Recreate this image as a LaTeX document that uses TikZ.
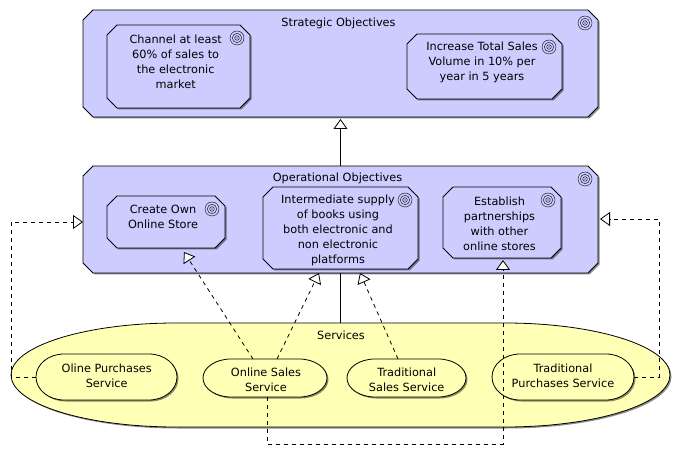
\documentclass[tikz,border=0pt]{standalone}
\usepackage{fontspec}
\setmainfont{DejaVu Sans}
\usetikzlibrary{shadows, positioning, arrows.meta}
\definecolor{goalblue}{HTML}{CCCCFF}
\definecolor{serviceyellow}{HTML}{FFFFB5}
\newdimen\boxL \newdimen\boxR \newdimen\boxT \newdimen\boxB \newdimen\capY
\pgfkeys{/pgf/capsule radius/.initial=28pt}
\makeatletter
\def\boxlimits{\southwest \boxL=\pgf@x \boxB=\pgf@y \northeast \boxR=\pgf@x \boxT=\pgf@y}
\pgfdeclareshape{chamferbox}{
  \inheritsavedanchors[from=rectangle]
  \inheritanchorborder[from=rectangle]
  \inheritanchor[from=rectangle]{center}
  \inheritanchor[from=rectangle]{north}
  \inheritanchor[from=rectangle]{south}
  \inheritanchor[from=rectangle]{east}
  \inheritanchor[from=rectangle]{west}
  \inheritanchor[from=rectangle]{north east}
  \backgroundpath{
    \boxlimits
    \pgfpathmoveto{\pgfpoint{\boxL+10pt}{\boxT}}
    \pgfpathlineto{\pgfpoint{\boxR-10pt}{\boxT}}
    \pgfpathlineto{\pgfpoint{\boxR}{\boxT-10pt}}
    \pgfpathlineto{\pgfpoint{\boxR}{\boxB+10pt}}
    \pgfpathlineto{\pgfpoint{\boxR-10pt}{\boxB}}
    \pgfpathlineto{\pgfpoint{\boxL+10pt}{\boxB}}
    \pgfpathlineto{\pgfpoint{\boxL}{\boxB+10pt}}
    \pgfpathlineto{\pgfpoint{\boxL}{\boxT-10pt}}
    \pgfpathclose
  }
}
\pgfdeclareshape{capsule}{
  \inheritsavedanchors[from=rectangle]
  \inheritanchorborder[from=rectangle]
  \inheritanchor[from=rectangle]{center}
  \inheritanchor[from=rectangle]{north}
  \inheritanchor[from=rectangle]{south}
  \inheritanchor[from=rectangle]{east}
  \inheritanchor[from=rectangle]{west}
  \backgroundpath{
    \boxlimits
    \capY=\boxT \advance\capY by -\boxB \divide\capY by 2
    \def\capR{\pgfkeysvalueof{/pgf/capsule radius}}
    \pgfpathmoveto{\pgfpoint{\boxL+\capR}{\boxT}}
    \pgfpathlineto{\pgfpoint{\boxR-\capR}{\boxT}}
    \pgfpatharc{90}{-90}{(\capR) and (\capY)}
    \pgfpathlineto{\pgfpoint{\boxL+\capR}{\boxB}}
    \pgfpatharc{270}{90}{(\capR) and (\capY)}
    \pgfpathclose
  }
}
\makeatother
\tikzset{
  softshadow/.style={drop shadow={shadow xshift=1.5pt, shadow yshift=-1.5pt, fill=black, opacity=.45}},
  objective/.style={shape=chamferbox, draw, fill=goalblue, softshadow, inner sep=0pt, outer sep=0pt},
  service/.style={shape=capsule, draw, fill=serviceyellow, softshadow, inner sep=0pt, outer sep=0pt},
  boxtext/.style={align=center, inner sep=0pt, yshift=-.8pt, font=\fontsize{11.3}{15}\selectfont},
  realize/.style={dash pattern=on 4pt off 4pt},
  goalicon/.pic={
    \draw[line width=.4pt] (0,0) circle (7pt) (0,0) circle (4.7pt) (0,0) circle (2.3pt);
    \fill (0,0) circle (.6pt);
  }
}
\begin{document}
\begin{tikzpicture}[x=1pt,y=1pt,>={Triangle[fill=white,length=10pt,width=14pt]},line width=.8pt]
    \useasboundingbox (0,0) rectangle (682,455);

    % Define nodes
    \node[objective, minimum width=515pt, minimum height=107pt] (Operational) at (340.5,235.5) {};
    \node[objective, minimum width=515pt, minimum height=107pt, above=49pt of Operational] (Strategic) {};

    \node[objective, minimum width=143pt, minimum height=83pt] (Channel) at (178.5,388.5) {};
    \node[objective, minimum width=155pt, minimum height=65pt] (Increase) at (484.5,388.5) {};
    \node[objective, minimum width=118pt, minimum height=52pt] (Create) at (166,233) {};
    \node[objective, minimum width=155pt, minimum height=82pt] (Intermediate) at (340.5,227) {};
    \node[objective, minimum width=118pt, minimum height=71pt] (Establish) at (502,232.5) {};

    \node[service, capsule radius=165pt, minimum width=659pt, minimum height=104pt] (Services) at (340.5,80) {};
    \node[service, minimum width=141pt, minimum height=46pt] (Oline) at (106.5,78) {};
    \node[service, minimum width=124pt, minimum height=38pt] (OnlineSales) at (265,77) {};
    \node[service, minimum width=119pt, minimum height=38pt] (TradSales) at (406.5,77) {};
    \node[service, minimum width=142pt, minimum height=46pt] (TradPurchases) at (563,78) {};

    % Texts
    \node[boxtext] (StrategicText) at (338.5,432) {Strategic Objectives};
    \node[boxtext] (OperationalText) at (337.5,277) {Operational Objectives};
    \node[boxtext] (ServicesText) at (341,121) {Services};
    \node[boxtext] (ChannelText) at (175.7,394.5) {Channel at least\\60\% of sales to\\the electronic\\market};
    \node[boxtext] (IncreaseText) at (482,393) {Increase Total Sales\\Volume in 10\% per\\year in 5 years};
    \node[boxtext] (CreateText) at (163,238.5) {Create Own\\Online Store};
    \node[boxtext] (IntermediateText) at (338,225) {Intermediate supply\\of books using\\both electronic and\\non electronic\\platforms};
    \node[boxtext] (EstablishText) at (499.5,232.5) {Establish\\partnerships\\with other\\online stores};
    \node[boxtext] (OlineText) at (106.7,80.5) {Oline Purchases\\Service};
    \node[boxtext] (OnlineSalesText) at (266,76.5) {Online Sales\\Service};
    \node[boxtext] (TradSalesText) at (406.7,76.5) {Traditional\\Sales Service};
    \node[boxtext] (TradPurchasesText) at (563,80.5) {Traditional\\Purchases Service};

    % Goal icons
    \foreach \obj in {Strategic, Operational, Channel, Increase, Create, Intermediate, Establish}
        \pic at ([xshift=-13pt,yshift=-13pt]\obj.north east) {goalicon};

    % Connectors
    \draw[->] (Operational.north) -- ([yshift=-2pt]Strategic.south);
    \draw (Services.north) -- (Operational.south);

    \draw[->, realize] (Oline.west) -- (Oline.west -| Services.west) |- ([yshift=-2.5pt]Operational.west);
    \draw[->, realize] ([xshift=-12pt]OnlineSales.north) -- ([xshift=18pt,yshift=-4pt]Create.south);
    \draw[->, realize] ([xshift=12pt]OnlineSales.north) -- ([xshift=-21.5pt,yshift=-4pt]Intermediate.south);
    \draw[->, realize] ([xshift=-8.5pt]TradSales.north) -- ([xshift=19.5pt,yshift=-4pt]Intermediate.south);
    \draw[->, realize] ([xshift=2pt]OnlineSales.south) -- ++(0,-47) -| ([xshift=1pt,yshift=-2pt]Establish.south);
    \draw[->, realize] (TradPurchases.east) -- ++(25,0) |- ([xshift=2pt,yshift=.5pt]Operational.east);

\end{tikzpicture}
\end{document}
